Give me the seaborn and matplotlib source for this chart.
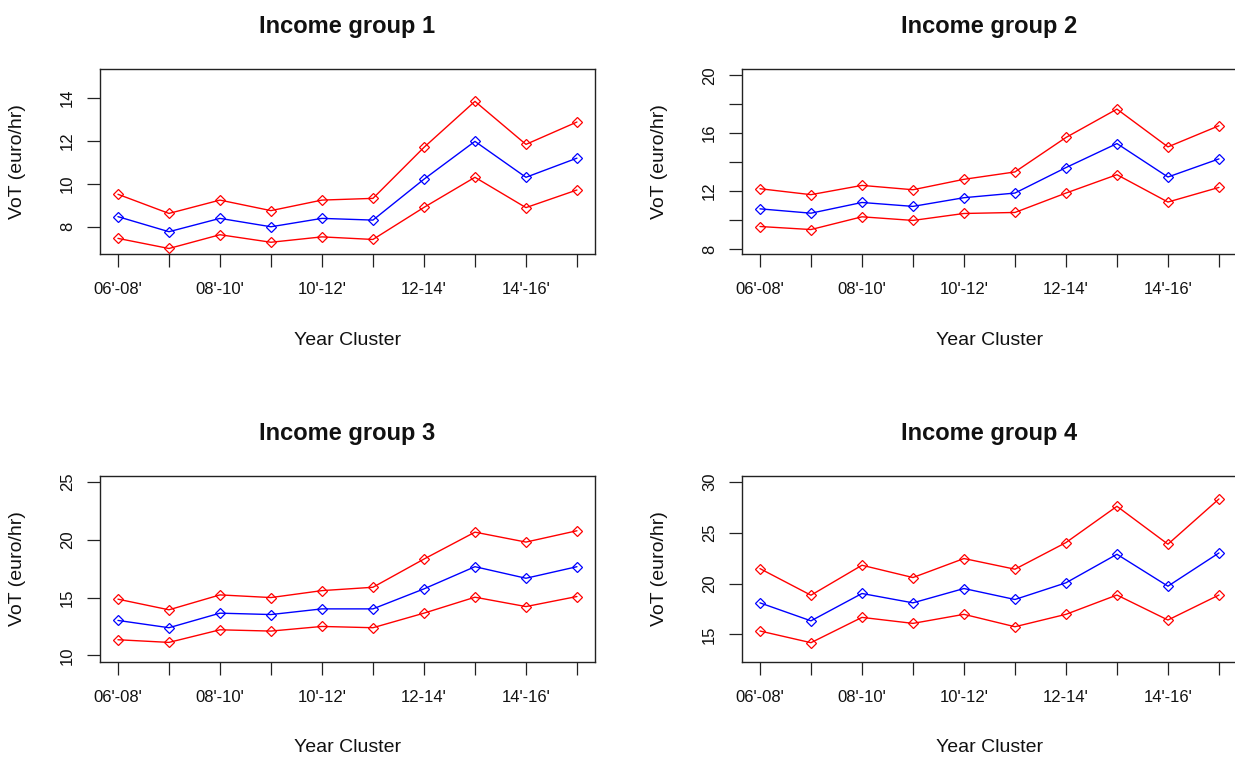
import numpy as np
import pandas as pd
import matplotlib
matplotlib.use("Agg")
import matplotlib.pyplot as plt
import seaborn as sns

# Year clusters (two-year rolling windows)
clusters = ["06'-08'", "07'-09'", "08'-10'", "09'-11'", "10'-12'",
            "11'-13'", "12-14'", "13'-15'", "14'-16'", "15'-17'"]

# Value of time (euro/hr): lower bound, estimate, upper bound per income group
g1_lower = [7.46, 6.99, 7.63, 7.28, 7.53, 7.41, 8.90, 10.30, 8.89, 9.71]
g1_mean = [8.47, 7.77, 8.39, 8.00, 8.39, 8.31, 10.21, 11.97, 10.30, 11.19]
g1_upper = [9.51, 8.62, 9.24, 8.75, 9.24, 9.32, 11.69, 13.83, 11.83, 12.87]

g2_lower = [9.55, 9.34, 10.22, 9.97, 10.45, 10.52, 11.86, 13.13, 11.24, 12.25]
g2_mean = [10.77, 10.47, 11.21, 10.94, 11.54, 11.86, 13.62, 15.28, 12.97, 14.22]
g2_upper = [12.16, 11.75, 12.39, 12.09, 12.81, 13.32, 15.70, 17.66, 15.05, 16.51]

g3_lower = [11.35, 11.12, 12.21, 12.10, 12.50, 12.39, 13.65, 15.03, 14.22, 15.09]
g3_mean = [13.02, 12.39, 13.65, 13.53, 14.02, 14.02, 15.75, 17.67, 16.67, 17.67]
g3_upper = [14.86, 13.94, 15.23, 15.00, 15.60, 15.89, 18.33, 20.66, 19.80, 20.78]

g4_lower = [15.33, 14.18, 16.67, 16.08, 16.97, 15.75, 16.97, 18.87, 16.41, 18.87]
g4_mean = [18.10, 16.33, 19.02, 18.10, 19.51, 18.43, 20.07, 22.88, 19.74, 23.01]
g4_upper = [21.47, 18.85, 21.80, 20.59, 22.46, 21.41, 24.03, 27.60, 23.87, 28.32]

group_titles = ["Income group 1", "Income group 2", "Income group 3", "Income group 4"]
group_series = [(g1_lower, g1_mean, g1_upper), (g2_lower, g2_mean, g2_upper),
                (g3_lower, g3_mean, g3_upper), (g4_lower, g4_mean, g4_upper)]

# Axis ranges and tick positions per panel
y_limits = [(6.72, 15.32), (7.63, 20.41), (9.45, 25.50), (12.31, 30.56)]
y_ticks = [[8, 10, 12, 14], [8, 10, 12, 14, 16, 18, 20], [10, 15, 20, 25], [15, 20, 25, 30]]
y_labeled = [[8, 10, 12, 14], [8, 12, 16, 20], [10, 15, 20, 25], [15, 20, 25, 30]]

rows = []
for title, (lo, mid, hi) in zip(group_titles, group_series):
    for name, vals in (("lower", lo), ("mean", mid), ("upper", hi)):
        for i, v in enumerate(vals):
            rows.append({"group": title, "series": name, "pos": i + 1, "value": v})
df = pd.DataFrame(rows)

sns.set_theme(style="white")
plt.rcParams["font.family"] = ["Liberation Sans", "DejaVu Sans"]
plt.rcParams["axes.edgecolor"] = "#222222"
plt.rcParams["axes.linewidth"] = 1.0

W, H = 1235, 758
fig = plt.figure(figsize=(W / 100, H / 100), dpi=100)

# panel boxes in pixels: left, top, width, height
boxes = [(99.6, 69.3, 495.7, 185.0), (741.6, 69.3, 495.7, 185.0),
         (99.6, 476.2, 495.7, 185.5), (741.6, 476.2, 495.7, 185.5)]

palette = {"lower": "#FF0000", "mean": "#0000FF", "upper": "#FF0000"}

XLABEL_GAP = 86.0   # px from box bottom to centre of x-axis title
YLABEL_GAP = 82.0   # px from box left to centre of y-axis title

for k, title in enumerate(group_titles):
    lx, ty, bw, bh = boxes[k]
    ax = fig.add_axes([lx / W, (H - ty - bh) / H, bw / W, bh / H])
    sub = df[df["group"] == title]
    for name in ("upper", "mean", "lower"):
        s = sub[sub["series"] == name]
        sns.lineplot(data=s, x="pos", y="value", ax=ax, color=palette[name],
                     marker="D", markersize=5.0, markerfacecolor="none",
                     markeredgecolor=palette[name], markeredgewidth=0.9,
                     linewidth=1.0, estimator=None, legend=False)
    ax.set_xlim(0.64, 10.36)
    ax.set_ylim(*y_limits[k])
    ax.set_xticks(range(1, len(clusters) + 1))
    ax.set_xticklabels([c if i % 2 == 0 else "" for i, c in enumerate(clusters)])
    ax.set_yticks(y_ticks[k])
    ax.set_yticklabels([str(t) if t in y_labeled[k] else "" for t in y_ticks[k]])
    ax.tick_params(axis="both", which="major", direction="out", length=9.2,
                   width=0.9, color="#222222", labelsize=12, labelcolor="#111111",
                   bottom=True, left=True)
    ax.tick_params(axis="x", pad=11)
    ax.tick_params(axis="y", pad=8.5)
    for lab in ax.get_yticklabels():
        lab.set_rotation(90)
        lab.set_va("center")
    ax.spines["top"].set_visible(True)
    ax.spines["right"].set_visible(True)

    ax.set_title(title, fontsize=17, fontweight="bold", pad=26, color="#111111")
    ax.set_xlabel("Year Cluster", fontsize=14, color="#111111")
    ax.set_ylabel("VoT (euro/hr)", fontsize=14, color="#111111")
    ax.xaxis.set_label_coords(0.5, -XLABEL_GAP / bh)
    ax.xaxis.label.set_va("center")
    ax.yaxis.set_label_coords(-YLABEL_GAP / bw, 0.5)
    ax.yaxis.label.set_va("center")
    ax.grid(False)

fig.savefig("out.png", dpi=100)
